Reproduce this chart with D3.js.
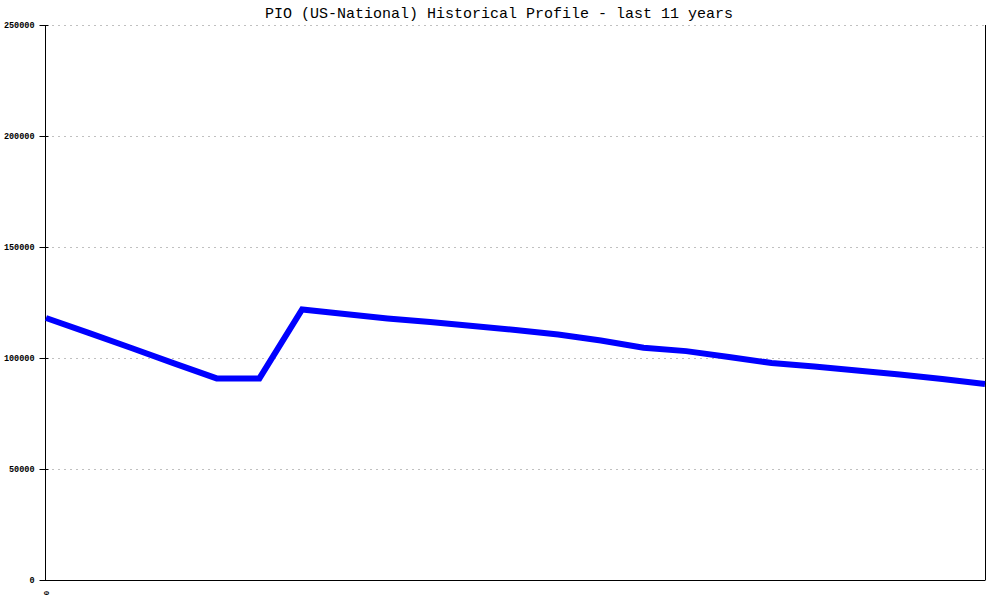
<!DOCTYPE html>
<html>
<head>
<meta charset="utf-8">
<script src="https://cdn.jsdelivr.net/npm/d3@7"></script>
<style>
html,body{margin:0;padding:0;background:#fff;}
svg{display:block;}
</style>
</head>
<body>
<svg id="chart" width="1000" height="600"></svg>
<script>
const title = "PIO (US-National) Historical Profile - last 11 years";
const pointIndex = [0,1,2,3,4,5,6,7,8,9,10,11,12,13,14,15,16,17,18,19,20,21,22];
const values = [118000,111300,104500,97600,90800,90800,121850,119800,117800,116200,114400,112600,110600,107900,104600,103100,100450,97750,96200,94400,92600,90500,88300];
const yTicks = [0,50000,100000,150000,200000,250000];
const xTickLabels = ["0"];

(function () {
const svg = d3.select("#chart");
const mLeft = 46, mRight = 985, mTop = 25, mBottom = 580;

const x = d3.scaleLinear().domain([0, pointIndex.length - 1]).range([mLeft, mRight]);
const y = d3.scaleLinear().domain([0, 250000]).range([mBottom, mTop]);

// gridlines
svg.append("g").selectAll("line").data(yTicks.filter(d => d > 0)).join("line")
  .attr("x1", mLeft).attr("x2", mRight)
  .attr("y1", d => Math.round(y(d)) + 0.5).attr("y2", d => Math.round(y(d)) + 0.5)
  .attr("stroke", "#c0c0c0").attr("stroke-width", 1)
  .attr("stroke-dasharray", "2,4");

// left axis
const yAxis = d3.axisLeft(y).tickValues(yTicks).tickSize(6).tickFormat(d3.format("d"));
const gy = svg.append("g").attr("transform", `translate(${mLeft - 0.5},0)`).call(yAxis);
gy.select(".domain").remove();
gy.selectAll(".tick line").attr("x1", -6).attr("x2", 3).attr("stroke", "#000");
gy.selectAll(".tick text")
  .attr("x", -11)
  .attr("font-family", "'Liberation Mono', 'DejaVu Sans Mono', monospace")
  .attr("font-size", 8.5).attr("font-weight", "bold").attr("fill", "#000");

// axis frame lines
svg.append("line").attr("x1", mLeft - 0.5).attr("x2", mLeft - 0.5).attr("y1", mTop).attr("y2", mBottom).attr("stroke", "#000");
svg.append("line").attr("x1", mRight + 0.5).attr("x2", mRight + 0.5).attr("y1", mTop).attr("y2", mBottom).attr("stroke", "#000");
svg.append("line").attr("x1", mLeft - 0.5).attr("x2", mRight + 0.5).attr("y1", mBottom + 0.5).attr("y2", mBottom + 0.5).attr("stroke", "#000");

// x label
svg.append("g").selectAll("text").data(xTickLabels).join("text")
  .attr("transform", (d, i) => `translate(${x(i) + 3},${mBottom + 13}) rotate(-90)`)
  .attr("text-anchor", "middle")
  .attr("font-family", "'Liberation Mono', 'DejaVu Sans Mono', monospace")
  .attr("font-size", 8).attr("font-weight", "bold")
  .text(d => d);

// line
const line = d3.line().x((d, i) => x(pointIndex[i])).y(d => y(d));
svg.append("path").datum(values)
  .attr("d", line)
  .attr("fill", "none")
  .attr("stroke", "#0000ff")
  .attr("stroke-width", 6)
  .attr("stroke-linejoin", "miter");

// title
svg.append("text")
  .attr("x", 499).attr("y", 18)
  .attr("text-anchor", "middle")
  .attr("font-family", "'Liberation Mono', 'DejaVu Sans Mono', monospace")
  .attr("font-size", 15)
  .attr("fill", "#000")
  .text(title);
})();
</script>
</body>
</html>
